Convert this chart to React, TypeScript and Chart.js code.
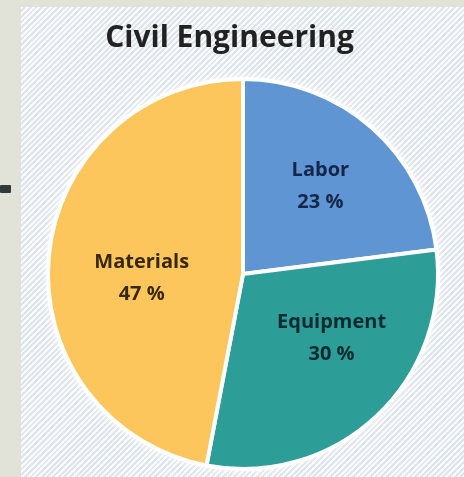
import React, { useEffect, useRef } from "react";
import { Chart, registerables } from "chart.js";

Chart.register(...registerables);

const categories = ["Labor", "Equipment", "Materials"];
const shares = [23, 30, 47];
const sliceColors = ["#5f95d2", "#2d9d98", "#fdc65d"];
const labelColors = ["#14264a", "#0a2a30", "#38280a"];
const labelRadius = [0.6, 0.56, 0.52];
const labelNudgeDeg = [0, -11, -8];
const titleText = "Civil Engineering";

const FONT = "'Open Sans', 'DejaVu Sans', sans-serif";

const glow = {
  id: "glow",
  beforeDatasetsDraw(chart: any) {
    const ctx = chart.ctx;
    const meta = chart.getDatasetMeta(0);
    const arc = meta.data[0];
    if (!arc) return;
    const p = arc.getProps(["x", "y", "outerRadius"], true);
    ctx.save();
    ctx.shadowColor = "rgba(255,255,255,1)";
    ctx.shadowBlur = 8;
    ctx.fillStyle = "#ffffff";
    ctx.beginPath();
    ctx.arc(p.x, p.y, p.outerRadius + 1, 0, Math.PI * 2);
    ctx.fill();
    ctx.restore();
  },
};

const titleDraw = {
  id: "titleDraw",
  afterDraw(chart: any) {
    const ctx = chart.ctx;
    ctx.save();
    ctx.fillStyle = "#222222";
    ctx.font = `bold 30px ${FONT}`;
    ctx.textAlign = "center";
    ctx.textBaseline = "middle";
    ctx.fillText(titleText, chart.width / 2 - 13, 31);
    ctx.restore();
  },
};

const sliceLabels = {
  id: "sliceLabels",
  afterDatasetsDraw(chart: any) {
    const ctx = chart.ctx;
    const meta = chart.getDatasetMeta(0);
    meta.data.forEach((arc: any, i: number) => {
      const p = arc.getProps(["x", "y", "startAngle", "endAngle", "outerRadius"], true);
      const mid = (p.startAngle + p.endAngle) / 2 + (labelNudgeDeg[i] * Math.PI) / 180;
      const r = p.outerRadius * labelRadius[i];
      const cx = p.x + Math.cos(mid) * r;
      const cy = p.y + Math.sin(mid) * r;
      ctx.save();
      ctx.fillStyle = labelColors[i];
      ctx.font = `bold 20px ${FONT}`;
      ctx.textAlign = "center";
      ctx.textBaseline = "middle";
      ctx.fillText(categories[i], cx, cy - 16);
      ctx.fillText(`${shares[i]} %`, cx, cy + 16);
      ctx.restore();
    });
  },
};

export default function App() {
  const ref = useRef<HTMLCanvasElement | null>(null);
  useEffect(() => {
    if (!ref.current) return;
    const chart = new Chart(ref.current, {
      type: "pie",
      data: {
        labels: categories,
        datasets: [
          {
            data: shares,
            backgroundColor: sliceColors,
            borderColor: "#ffffff",
            borderWidth: 4,
          },
        ],
      },
      options: {
        animation: false,
        responsive: false,
        maintainAspectRatio: false,
        layout: { padding: { left: 24, right: 23, bottom: 6, top: 70 } },
        plugins: {
          legend: { display: false },
          tooltip: { enabled: false },
          title: { display: false },
        },
      },
      plugins: [glow, sliceLabels, titleDraw],
    });
    return () => chart.destroy();
  }, []);

  return (
    <div
      style={{
        position: "fixed",
        left: 0,
        top: 0,
        width: 464,
        height: 477,
        background: "#e2e3d8",
        overflow: "hidden",
      }}
    >
      <div
        style={{
          position: "absolute",
          left: 0,
          top: 185,
          width: 11,
          height: 8,
          background: "#2f3a3a",
          borderRadius: 1,
        }}
      />
      <div
        style={{
          position: "absolute",
          left: 21,
          top: 7,
          width: 443,
          height: 470,
          background:
            "repeating-linear-gradient(135deg, #f8fafc 0px, #f8fafc 2px, #dfe5ec 2px, #dfe5ec 4px)",
        }}
      >
        <canvas ref={ref} width={443} height={470} style={{ display: "block" }} />
      </div>
    </div>
  );
}
